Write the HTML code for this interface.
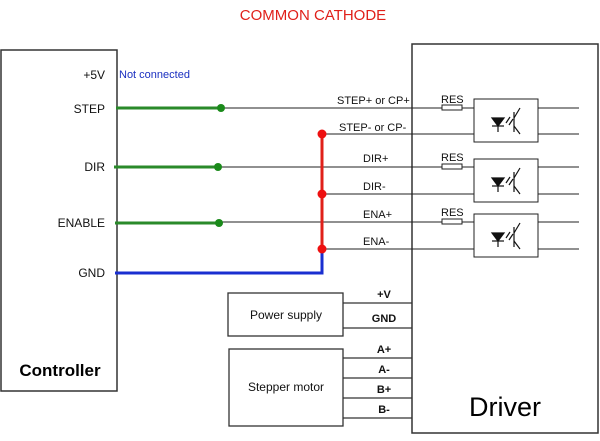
<!DOCTYPE html>
<html><head><meta charset="utf-8"><style>body{margin:0;background:#fff}svg{display:block}</style></head><body>
<svg width="600" height="441" viewBox="0 0 600 441" xmlns="http://www.w3.org/2000/svg" font-family="Liberation Sans, sans-serif">
<text x="313" y="20" fill="#e0201a" font-size="15" text-anchor="middle">COMMON CATHODE</text>
<rect x="1" y="50" width="116" height="341" fill="none" stroke="#333" stroke-width="1.5"/>
<rect x="412" y="44" width="186" height="389" fill="none" stroke="#333" stroke-width="1.5"/>
<g font-size="12" text-anchor="end" fill="#111">
<text x="105" y="79">+5V</text><text x="105" y="113">STEP</text><text x="105" y="171">DIR</text><text x="105" y="227">ENABLE</text><text x="105" y="277">GND</text>
</g>
<text x="119" y="78" font-size="11" fill="#1a2fc0">Not connected</text>
<text x="60" y="376" font-size="17" font-weight="bold" text-anchor="middle">Controller</text>
<text x="505" y="416" font-size="27" text-anchor="middle">Driver</text>
<g stroke="#222" stroke-width="1">
<line x1="220" y1="108" x2="579" y2="108"/><line x1="322" y1="134" x2="579" y2="134"/>
<line x1="220" y1="167" x2="579" y2="167"/><line x1="322" y1="194" x2="579" y2="194"/>
<line x1="220" y1="222" x2="579" y2="222"/><line x1="322" y1="249" x2="579" y2="249"/>
</g>
<g stroke="#2a8a2a" stroke-width="3"><line x1="116" y1="108" x2="220" y2="108"/><line x1="114" y1="167" x2="218" y2="167"/><line x1="115" y1="223" x2="219" y2="223"/></g>
<g fill="#1a8a1a"><circle cx="221" cy="108" r="4"/><circle cx="218" cy="167" r="4"/><circle cx="219" cy="223" r="4"/></g>
<polyline points="115,273 322,273 322,250" fill="none" stroke="#1a2fd0" stroke-width="3"/>
<line x1="322" y1="134" x2="322" y2="249" stroke="#e0201a" stroke-width="3"/>
<g fill="#ee1010"><circle cx="322" cy="134" r="4.5"/><circle cx="322" cy="194" r="4.5"/><circle cx="322" cy="249" r="4.5"/></g>
<g font-size="11" fill="#111">
<text x="337" y="104">STEP+ or CP+</text><text x="339" y="131">STEP- or CP-</text>
<text x="363" y="162">DIR+</text><text x="363" y="190">DIR-</text>
<text x="363" y="218">ENA+</text><text x="363" y="245">ENA-</text>
<text x="441" y="103">RES</text><text x="441" y="161">RES</text><text x="441" y="216">RES</text>
</g>
<g fill="#fff" stroke="#222" stroke-width="1">
<rect x="442" y="105" width="20" height="5"/><rect x="442" y="164" width="20" height="5"/><rect x="442" y="219" width="20" height="5"/>
<rect x="474" y="99" width="64" height="43"/><rect x="474" y="159" width="64" height="43"/><rect x="474" y="214" width="64" height="43"/>
</g>
<g id="opto" stroke="#111" fill="none" stroke-width="1.2">
<polygon points="492,118 504,118 498,126" fill="#111"/><line x1="492" y1="126" x2="504" y2="126"/><line x1="498" y1="126" x2="498" y2="132"/>
<line x1="506" y1="123" x2="510" y2="117"/><line x1="509" y1="125" x2="513" y2="119"/>
<line x1="514" y1="112" x2="514" y2="132"/><line x1="514" y1="118" x2="520" y2="108"/><line x1="514" y1="126" x2="520" y2="134"/>
</g>
<use href="#opto" y="60"/><use href="#opto" y="115"/>
<g fill="#fff" stroke="#333" stroke-width="1.3">
<rect x="228" y="293" width="115" height="43"/><rect x="229" y="349" width="114" height="77"/>
</g>
<g stroke="#333" stroke-width="1.2">
<line x1="343" y1="303" x2="412" y2="303"/><line x1="343" y1="328" x2="412" y2="328"/>
<line x1="343" y1="358" x2="412" y2="358"/><line x1="343" y1="378" x2="412" y2="378"/>
<line x1="343" y1="398" x2="412" y2="398"/><line x1="343" y1="418" x2="412" y2="418"/>
</g>
<g font-size="12" fill="#111" text-anchor="middle">
<text x="286" y="319">Power supply</text><text x="286" y="391">Stepper motor</text>
<g font-weight="bold" font-size="11"><text x="384" y="298">+V</text><text x="384" y="322">GND</text><text x="384" y="353">A+</text><text x="384" y="373">A-</text><text x="384" y="393">B+</text><text x="384" y="413">B-</text></g>
</g>
</svg>
</body></html>
